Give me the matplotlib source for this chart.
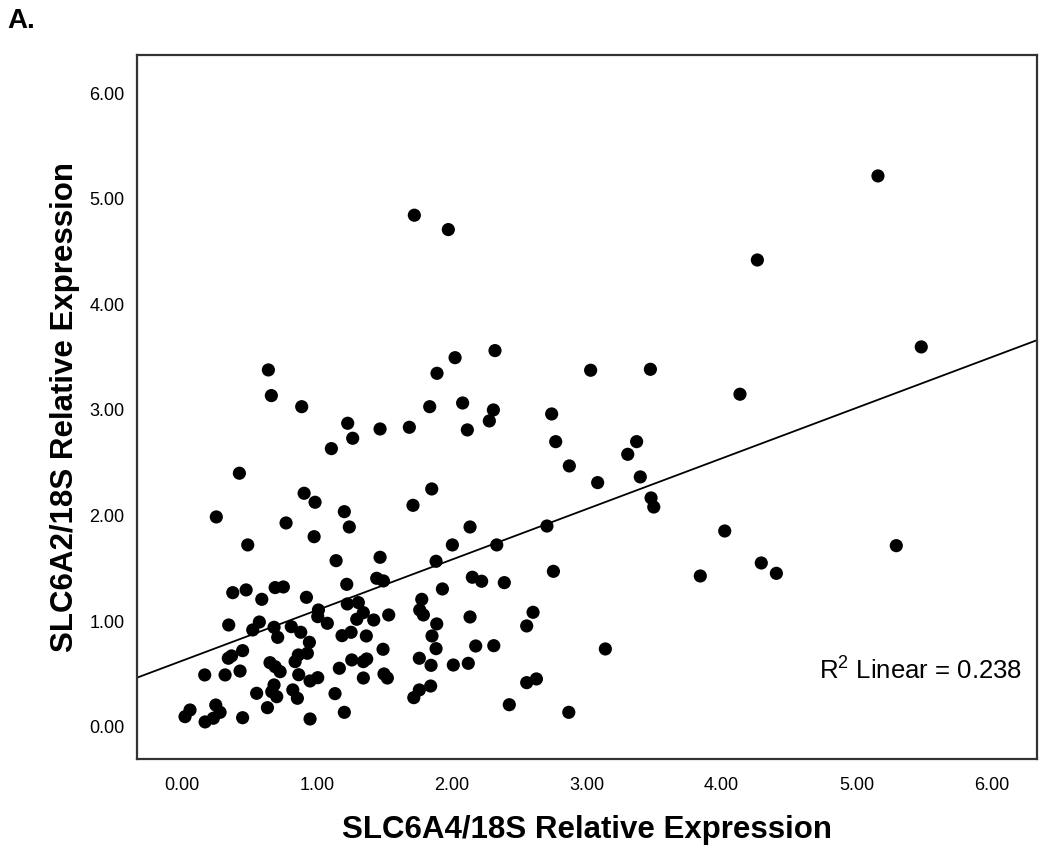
import matplotlib
matplotlib.use("Agg")
import matplotlib.pyplot as plt
import numpy as np

# SLC6A4/18S (x) and SLC6A2/18S (y) relative expression
slc6a4 = [1.722, 1.974, 2.320, 2.024, 1.890, 0.640, 0.662, 0.887, 1.836, 2.080,
          2.308, 2.740, 1.228, 2.278, 1.468, 1.685, 2.115, 1.265, 1.107, 2.770,
          0.425, 1.851, 1.712, 0.254, 0.905, 0.986, 1.203, 1.240, 0.771, 0.979,
          0.487, 2.135, 2.004, 2.333, 2.705, 2.753, 1.142, 1.468, 1.883, 1.443,
          1.493, 1.221, 2.152, 2.221, 2.389, 1.930, 0.376, 0.475, 0.591, 0.690,
          0.751, 0.922, 1.777, 1.762, 1.789, 1.888, 1.853, 1.883, 2.135, 2.177,
          2.311, 2.602, 2.555, 1.759, 1.846, 2.011, 2.122, 1.843, 1.759, 1.718,
          2.426, 2.555, 2.627, 1.011, 1.006, 1.077, 1.225, 1.307, 1.344, 1.295,
          1.421, 1.532, 1.186, 1.253, 1.366, 1.490, 1.258, 1.344, 1.369, 1.166,
          1.344, 1.497, 1.522, 1.134, 1.203, 0.949, 0.949, 1.006, 0.865, 0.944,
          0.929, 0.862, 0.838, 0.880, 0.810, 0.709, 0.682, 0.573, 0.524, 0.346,
          0.449, 0.367, 0.343, 0.430, 0.319, 0.168, 0.652, 0.690, 0.727, 0.682,
          0.665, 0.702, 0.553, 0.633, 0.821, 0.855, 0.449, 0.059, 0.022, 0.171,
          0.232, 0.250, 0.282, 5.159, 4.265, 5.480, 3.029, 3.472, 4.136, 3.370,
          3.304, 2.871, 3.397, 3.081, 3.477, 3.497, 4.023, 5.295, 4.294, 4.406,
          3.842, 3.138, 2.867]
slc6a2 = [4.843, 4.707, 3.561, 3.494, 3.346, 3.378, 3.135, 3.030, 3.030, 3.065,
          2.999, 2.961, 2.873, 2.895, 2.819, 2.835, 2.810, 2.731, 2.633, 2.699,
          2.400, 2.251, 2.096, 1.986, 2.210, 2.125, 2.036, 1.891, 1.929, 1.799,
          1.721, 1.891, 1.721, 1.721, 1.900, 1.471, 1.572, 1.604, 1.566, 1.405,
          1.380, 1.348, 1.415, 1.377, 1.364, 1.304, 1.269, 1.295, 1.206, 1.317,
          1.323, 1.225, 1.206, 1.105, 1.058, 0.973, 0.859, 0.739, 1.039, 0.764,
          0.767, 1.083, 0.954, 0.648, 0.581, 0.584, 0.600, 0.385, 0.348, 0.275,
          0.208, 0.417, 0.452, 1.105, 1.042, 0.979, 1.162, 1.175, 1.080, 1.017,
          1.010, 1.058, 0.862, 0.894, 0.859, 0.733, 0.632, 0.616, 0.641, 0.553,
          0.461, 0.499, 0.461, 0.313, 0.136, 0.073, 0.433, 0.464, 0.492, 0.799,
          0.695, 0.679, 0.616, 0.894, 0.947, 0.846, 0.941, 0.991, 0.916, 0.963,
          0.720, 0.670, 0.648, 0.527, 0.490, 0.490, 0.606, 0.568, 0.521, 0.395,
          0.331, 0.284, 0.316, 0.180, 0.348, 0.269, 0.085, 0.158, 0.095, 0.045,
          0.080, 0.205, 0.136, 5.215, 4.419, 3.596, 3.375, 3.384, 3.148, 2.699,
          2.579, 2.469, 2.365, 2.311, 2.166, 2.080, 1.853, 1.714, 1.550, 1.452,
          1.427, 0.736, 0.136]

# Linear fit as shown (intercept, slope) and reported R²
fit_intercept = 0.624
fit_slope = 0.479
r2_text = "R$^2$ Linear = 0.238"

tick_values = [0, 1, 2, 3, 4, 5, 6]
tick_labels = ["0.00", "1.00", "2.00", "3.00", "4.00", "5.00", "6.00"]

plt.rcParams['font.family'] = ['Liberation Sans', 'DejaVu Sans']
plt.rcParams['mathtext.fontset'] = 'custom'
plt.rcParams['mathtext.rm'] = 'Liberation Sans'

fig = plt.figure(figsize=(10.5, 8.5), dpi=100)
ax = fig.add_axes([137/1050, 1-759/850, 900/1050, 704/850])

xlim = (-0.334, 6.338)
ylim = (-0.306, 6.36)
ax.set_xlim(*xlim)
ax.set_ylim(*ylim)

ax.scatter(slc6a4, slc6a2, s=90, color='black', edgecolors='none', zorder=3)

xs = np.array(xlim)
ax.plot(xs, fit_intercept + fit_slope * xs, color='black', lw=1.3, zorder=2)

ax.set_xticks(tick_values)
ax.set_xticklabels(tick_labels)
ax.set_yticks(tick_values)
ax.set_yticklabels(tick_labels)
ax.tick_params(axis='both', length=0, labelsize=13)
ax.tick_params(axis='x', pad=13)
ax.tick_params(axis='y', pad=9)

for sp in ax.spines.values():
    sp.set_linewidth(1.6)
    sp.set_color('#333333')

ax.set_xlabel("SLC6A4/18S Relative Expression", fontsize=22.5, fontweight='bold', labelpad=15)
ax.set_ylabel("SLC6A2/18S Relative Expression", fontsize=22.5, fontweight='bold', labelpad=7)

ax.text(0.983, 0.114, r2_text, transform=ax.transAxes, ha='right', va='baseline', fontsize=18.5)

fig.text(7/1050, 1-28/850, "A.", fontsize=20, fontweight='bold', ha='left', va='baseline')

fig.savefig("out.png", dpi=100)
